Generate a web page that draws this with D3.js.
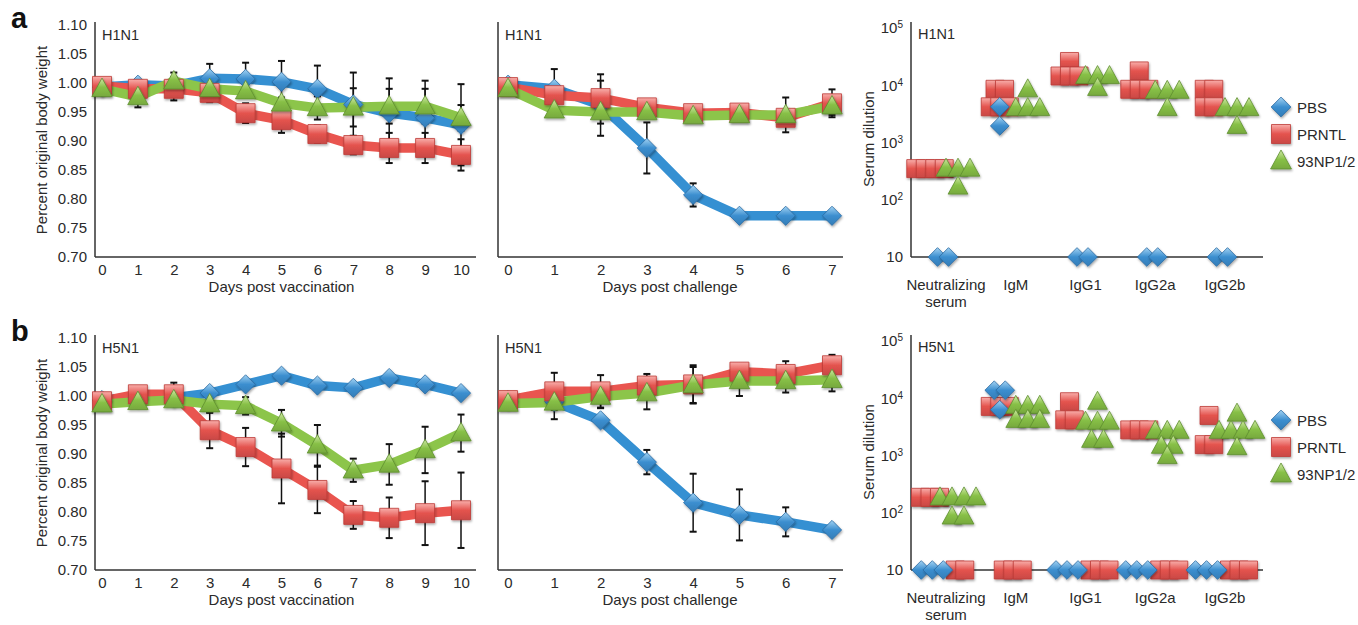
<!DOCTYPE html>
<html>
<head>
<meta charset="utf-8">
<script src="https://cdn.jsdelivr.net/npm/d3@7"></script>
<style>
  body { margin: 0; background: #fff; }
  svg { display: block; font-family: "Liberation Sans", Arial, sans-serif; }
</style>
</head>
<body>
<div id="fig"></div>
<script>
// ---- data ----
const seriesNames = ["PBS", "PRNTL", "93NP1/2"];
const vacDays = [0, 1, 2, 3, 4, 5, 6, 7, 8, 9, 10];
const chalDays = [0, 1, 2, 3, 4, 5, 6, 7];
const weightTicks = [0.70, 0.75, 0.80, 0.85, 0.90, 0.95, 1.00, 1.05, 1.10];
const dilutionTicks = [10, 100, 1000, 10000, 100000];
const antibodyCats = ["Neutralizing serum", "IgM", "IgG1", "IgG2a", "IgG2b"];

// H1N1, days post vaccination
const h1VacPBS      = [0.993, 0.997, 0.995, 1.008, 1.007, 1.002, 0.990, 0.963, 0.948, 0.940, 0.928];
const h1VacPBSErr   = [0, 0, 0, 0.025, 0.028, 0.036, 0.040, 0.055, 0.060, 0.064, 0.070];
const h1VacPRNTL    = [0.995, 0.990, 0.990, 0.983, 0.948, 0.936, 0.912, 0.893, 0.888, 0.888, 0.876];
const h1VacPRNTLErr = [0, 0.005, 0.020, 0.016, 0.017, 0.022, 0.015, 0.016, 0.026, 0.026, 0.027];
const h1Vac93NP     = [0.990, 0.976, 1.003, 0.990, 0.986, 0.965, 0.957, 0.958, 0.960, 0.960, 0.940];
const h1Vac93NPErr  = [0, 0.018, 0.015, 0.010, 0.010, 0.010, 0.020, 0.033, 0.030, 0.030, 0.022];

// H1N1, days post challenge
const h1ChPBS      = [0.997, 0.990, 0.962, 0.888, 0.807, 0.771, 0.771, 0.771];
const h1ChPBSErr   = [0, 0.034, 0.053, 0.044, 0.020, 0, 0, 0];
const h1ChPRNTL    = [0.993, 0.979, 0.974, 0.958, 0.948, 0.949, 0.940, 0.965];
const h1ChPRNTLErr = [0, 0, 0.030, 0, 0.008, 0, 0.010, 0.024];
const h1Ch93NP     = [0.990, 0.953, 0.950, 0.950, 0.943, 0.945, 0.945, 0.960];
const h1Ch93NPErr  = [0, 0, 0.020, 0, 0, 0, 0.030, 0.015];

// H5N1, days post vaccination
const h5VacPBS      = [0.993, 0.997, 0.997, 1.005, 1.020, 1.035, 1.018, 1.014, 1.031, 1.020, 1.005];
const h5VacPBSErr   = [0, 0, 0, 0, 0, 0, 0, 0, 0, 0, 0];
const h5VacPRNTL    = [0.991, 1.003, 1.003, 0.941, 0.912, 0.875, 0.838, 0.795, 0.790, 0.798, 0.803];
const h5VacPRNTLErr = [0, 0, 0.020, 0.031, 0.033, 0.060, 0.040, 0.024, 0.035, 0.055, 0.065];
const h5Vac93NP     = [0.986, 0.990, 0.993, 0.986, 0.983, 0.953, 0.915, 0.872, 0.882, 0.907, 0.936];
const h5Vac93NPErr  = [0, 0, 0.010, 0.015, 0.015, 0.023, 0.035, 0.020, 0.035, 0.040, 0.032];

// H5N1, days post challenge
const h5ChPBS      = [0.993, 0.990, 0.958, 0.886, 0.816, 0.795, 0.783, 0.769];
const h5ChPBSErr   = [0, 0, 0, 0.021, 0.050, 0.044, 0.025, 0];
const h5ChPRNTL    = [0.993, 1.008, 1.008, 1.018, 1.020, 1.042, 1.038, 1.053];
const h5ChPRNTLErr = [0, 0.032, 0.028, 0.020, 0.033, 0.005, 0.022, 0.018];
const h5Ch93NP     = [0.987, 0.989, 0.999, 1.005, 1.019, 1.026, 1.026, 1.028];
const h5Ch93NPErr  = [0, 0.029, 0.020, 0.028, 0.031, 0.026, 0.020, 0.020];

// serum dilutions, one list per antibody category (10 = detection floor)
const h1AbPBS   = [[10, 10], [4200, 1950], [10, 10], [10, 10], [10, 10]];
const h1AbPRNTL = [[350, 350, 350, 350], [8500, 8500, 4200, 4200, 4200], [26000, 14500, 14500, 14500],
                   [17800, 8500, 8500, 8500], [8500, 8500, 4200, 4200]];
const h1Ab93NP  = [[350, 350, 350, 170], [8500, 4000, 4000, 4000], [14500, 14500, 14500, 9000],
                   [8000, 8000, 8000, 4000], [4000, 4000, 4000, 1950]];

const h5AbPBS   = [[10, 10, 10], [13800, 13800, 6300], [10, 10, 10], [10, 10, 10], [10, 10, 10]];
const h5AbPRNTL = [[186, 186, 186, 10, 10], [7200, 7200, 7200, 10, 10, 10], [8700, 4200, 4200, 10, 10, 10],
                   [2800, 2800, 2800, 10, 10, 10], [5000, 1550, 1550, 10, 10, 10]];
const h5Ab93NP  = [[186, 186, 186, 186, 86, 86], [7400, 7400, 7400, 4200, 4200, 4200],
                   [8700, 3900, 3900, 3900, 1880, 1880], [2700, 2700, 2700, 1480, 1480, 980],
                   [5400, 2700, 2700, 2700, 2700, 1400]];

// ---- look ----
const look = [
  { line: '#3590d2', base: '#3b8ecf', light: '#a3d3f3', edge: '#2a6aa2', shape: 'diamond' },
  { line: '#e9554f', base: '#e4534e', light: '#f8aeaa', edge: '#bd3a36', shape: 'square' },
  { line: '#8cc54a', base: '#87c046', light: '#d2eaa9', edge: '#5e8f2f', shape: 'triangle' }
];
const textColor = '#2a2a2a';
const axisColor = '#333';

const width = 1358, height = 625;
const svg = d3.select('#fig').append('svg')
  .attr('width', width).attr('height', height);

const defs = svg.append('defs');
const shadow = defs.append('filter').attr('id', 'shadow')
  .attr('x', '-40%').attr('y', '-40%').attr('width', '190%').attr('height', '190%');
shadow.append('feDropShadow').attr('dx', 0.8).attr('dy', 1.6).attr('stdDeviation', 1)
  .attr('flood-color', '#000').attr('flood-opacity', 0.35);

look.forEach((l, i) => {
  const g = defs.append('linearGradient').attr('id', 'grad' + i)
    .attr('x1', 0).attr('y1', 0).attr('x2', 0).attr('y2', 1);
  g.append('stop').attr('offset', '0%').attr('stop-color', l.light);
  g.append('stop').attr('offset', '50%').attr('stop-color', l.base);
  g.append('stop').attr('offset', '100%').attr('stop-color', d3.color(l.base).darker(0.35));
});

function shapePath(shape, size) {
  if (shape === 'diamond') {
    const r = size * 0.52;
    return `M0,${-r}L${r},0L0,${r}L${-r},0Z`;
  }
  if (shape === 'square') {
    const h = size / 2;
    return `M${-h},${-h}h${size}v${size}h${-size}Z`;
  }
  const w = size * 1.1, h = size;
  return `M0,${-h * 0.58}L${w / 2},${h * 0.42}L${-w / 2},${h * 0.42}Z`;
}

function marker(g, si, x, y, size) {
  g.append('path')
    .attr('d', shapePath(look[si].shape, size))
    .attr('transform', `translate(${x},${y})`)
    .attr('fill', `url(#grad${si})`)
    .attr('stroke', look[si].edge)
    .attr('stroke-width', 0.8)
    .attr('filter', 'url(#shadow)');
}

// ---- body-weight panels ----
function weightPanel(opt) {
  const g = svg.append('g');
  const y = d3.scaleLinear().domain([0.70, 1.10]).range([opt.bottom, opt.bottom - 232]);
  const x = d3.scaleLinear().domain([0, opt.days.length - 1]).range(opt.xRange);

  g.append('line').attr('x1', opt.axisX).attr('x2', opt.axisX)
    .attr('y1', opt.bottom - 235).attr('y2', opt.bottom)
    .attr('stroke', axisColor).attr('stroke-width', 1.5);
  g.append('line').attr('x1', opt.axisX).attr('x2', opt.axisRight)
    .attr('y1', opt.bottom).attr('y2', opt.bottom)
    .attr('stroke', axisColor).attr('stroke-width', 1.5);

  if (opt.yAxis) {
    const ya = g.append('g').attr('transform', `translate(${opt.axisX},0)`)
      .call(d3.axisLeft(y).tickValues(weightTicks).tickFormat(d3.format('.2f')).tickSize(0).tickPadding(8));
    ya.select('.domain').remove();
    ya.selectAll('text').attr('font-size', 15).attr('fill', textColor)
      .attr('font-family', '"Liberation Sans", Arial, sans-serif');
    g.append('text')
      .attr('transform', `translate(${opt.axisX - 48},${opt.bottom - 117}) rotate(-90)`)
      .attr('text-anchor', 'middle').attr('font-size', 15).attr('fill', textColor)
      .text('Percent original body weight');
  }

  const xa = g.append('g').attr('transform', `translate(0,${opt.bottom})`)
    .call(d3.axisBottom(x).tickValues(opt.days).tickFormat(d3.format('d')).tickSize(0).tickPadding(7));
  xa.select('.domain').remove();
  xa.selectAll('text').attr('font-size', 15).attr('fill', textColor)
    .attr('font-family', '"Liberation Sans", Arial, sans-serif');

  g.append('text').attr('x', (opt.xRange[0] + opt.xRange[1]) / 2).attr('y', opt.bottom + 35)
    .attr('text-anchor', 'middle').attr('font-size', 15).attr('fill', textColor)
    .text(opt.xLabel);
  g.append('text').attr('x', opt.axisX + 7).attr('y', opt.bottom - 217)
    .attr('font-size', 14.5).attr('fill', textColor).text(opt.title);

  const line = d3.line().x((d, i) => x(i)).y(d => y(d));
  opt.series.forEach((s, si) => {
    g.append('path').datum(s.vals)
      .attr('d', line).attr('fill', 'none')
      .attr('stroke', look[si].line).attr('stroke-width', 9.5)
      .attr('stroke-linejoin', 'round');
  });
  opt.series.forEach(s => {
    s.vals.forEach((v, i) => {
      const e = s.errs[i];
      if (!e) return;
      const cx = x(i);
      g.append('line').attr('x1', cx).attr('x2', cx)
        .attr('y1', y(v - e)).attr('y2', y(v + e))
        .attr('stroke', '#111').attr('stroke-width', 1.5);
      [v - e, v + e].forEach(c => {
        g.append('line').attr('x1', cx - 3.5).attr('x2', cx + 3.5)
          .attr('y1', y(c)).attr('y2', y(c))
          .attr('stroke', '#111').attr('stroke-width', 2);
      });
    });
  });
  opt.series.forEach((s, si) => {
    s.vals.forEach((v, i) => marker(g, si, x(i), y(v), si === 1 ? 19 : 18.5));
  });
}

// ---- antibody panels ----
function antibodyPanel(opt) {
  const g = svg.append('g');
  const y = d3.scaleLog().domain([10, 100000]).range([opt.bottom, opt.bottom - 229]);
  const x = d3.scalePoint().domain(antibodyCats).range([946, 1225]);
  const axisX = 911, axisRight = 1263;

  g.append('line').attr('x1', axisX).attr('x2', axisX)
    .attr('y1', opt.bottom - 235).attr('y2', opt.bottom)
    .attr('stroke', axisColor).attr('stroke-width', 1.5);
  g.append('line').attr('x1', axisX).attr('x2', axisRight)
    .attr('y1', opt.bottom).attr('y2', opt.bottom)
    .attr('stroke', axisColor).attr('stroke-width', 1.5);

  const ya = g.append('g').attr('transform', `translate(${axisX},0)`)
    .call(d3.axisLeft(y).tickValues(dilutionTicks).tickSize(0).tickPadding(8));
  ya.select('.domain').remove();
  ya.selectAll('text').attr('font-size', 15).attr('fill', textColor)
    .attr('font-family', '"Liberation Sans", Arial, sans-serif')
    .each(function (d) {
      const t = d3.select(this);
      t.text(null);
      t.append('tspan').text('10');
      if (d > 10) {
        t.append('tspan').attr('dy', '-0.5em').attr('font-size', 10)
          .text(Math.round(Math.log10(d)));
      }
    });
  g.append('text')
    .attr('transform', `translate(${axisX - 37},${opt.bottom - 118}) rotate(-90)`)
    .attr('text-anchor', 'middle').attr('font-size', 15).attr('fill', textColor)
    .text('Serum dilution');

  antibodyCats.forEach(c => {
    const words = c.split(' ');
    const t = g.append('text').attr('x', x(c)).attr('y', opt.bottom + 33)
      .attr('text-anchor', 'middle').attr('font-size', 15).attr('fill', textColor);
    words.forEach((w, i) => t.append('tspan').attr('x', x(c)).attr('dy', i ? 17 : 0).text(w));
  });

  g.append('text').attr('x', axisX + 7).attr('y', opt.bottom - 218)
    .attr('font-size', 14.5).attr('fill', textColor).text(opt.title);

  // dodge the points: equal values of one group sit side by side in a row
  const anchor = [-16, -16, 12];
  const stepOf = [11, 9.5, 12];
  const placed = [];
  antibodyCats.forEach((c, ci) => {
    const cx = x(c);
    const floor = [];
    opt.series.forEach((s, si) => s[ci].forEach(v => { if (v === 10) floor.push({ si, v }); }));
    let pos = 0;
    floor.forEach((p, k) => {
      if (k) pos += floor[k - 1].si === p.si ? stepOf[p.si] : 12;
      p.off = pos;
    });
    floor.forEach(p => placed.push({ si: p.si, v: p.v, px: cx - 3 + p.off - pos / 2 }));
    opt.series.forEach((s, si) => {
      const rows = d3.groups(s[ci].filter(v => v !== 10), v => v);
      rows.forEach(([v, pts]) => {
        pts.forEach((p, k) => placed.push({
          si, v, px: cx + anchor[si] + (k - (pts.length - 1) / 2) * stepOf[si]
        }));
      });
    });
  });
  [1, 0, 2].forEach(si => {
    placed.filter(p => p.si === si).forEach(p => marker(g, si, p.px, y(p.v), 18));
  });

  // legend
  seriesNames.forEach((n, i) => {
    const ly = opt.bottom - 150 + i * 27;
    marker(g, i, 1281, ly, 19);
    g.append('text').attr('x', 1297).attr('y', ly + 5.5)
      .attr('font-size', 15).attr('fill', textColor).text(n);
  });
}

const rows = [
  { bottom: 257, letter: 'a', title: 'H1N1',
    vac: [[h1VacPBS, h1VacPBSErr], [h1VacPRNTL, h1VacPRNTLErr], [h1Vac93NP, h1Vac93NPErr]],
    ch: [[h1ChPBS, h1ChPBSErr], [h1ChPRNTL, h1ChPRNTLErr], [h1Ch93NP, h1Ch93NPErr]],
    ab: [h1AbPBS, h1AbPRNTL, h1Ab93NP] },
  { bottom: 570, letter: 'b', title: 'H5N1',
    vac: [[h5VacPBS, h5VacPBSErr], [h5VacPRNTL, h5VacPRNTLErr], [h5Vac93NP, h5Vac93NPErr]],
    ch: [[h5ChPBS, h5ChPBSErr], [h5ChPRNTL, h5ChPRNTLErr], [h5Ch93NP, h5Ch93NPErr]],
    ab: [h5AbPBS, h5AbPRNTL, h5Ab93NP] }
];

rows.forEach(r => {
  svg.append('text').attr('x', 11).attr('y', r.bottom - 229)
    .attr('font-size', 29).attr('font-weight', 'bold').attr('fill', '#111').text(r.letter);

  weightPanel({
    bottom: r.bottom, axisX: 95, axisRight: 476, xRange: [102, 461], yAxis: true,
    days: vacDays, xLabel: 'Days post vaccination', title: r.title,
    series: r.vac.map(d => ({ vals: d[0], errs: d[1] }))
  });
  weightPanel({
    bottom: r.bottom, axisX: 498, axisRight: 843, xRange: [508, 832], yAxis: false,
    days: chalDays, xLabel: 'Days post challenge', title: r.title,
    series: r.ch.map(d => ({ vals: d[0], errs: d[1] }))
  });
  antibodyPanel({ bottom: r.bottom, title: r.title, series: r.ab });
});
</script>
</body>
</html>
